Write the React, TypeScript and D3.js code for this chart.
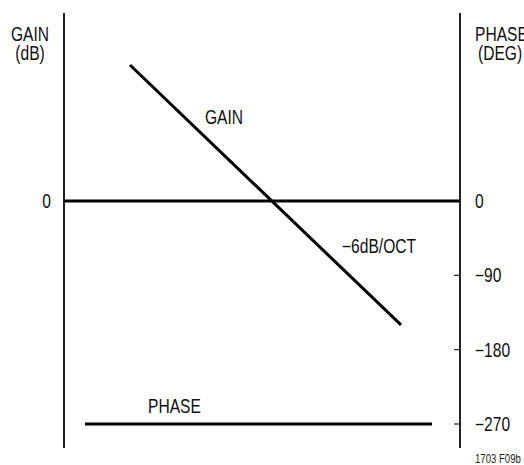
import React from 'react';
import * as d3 from 'd3';

// frequency in octaves relative to the 0 dB crossing
const gainOctaves = [-2.84, 2.58];
const gainDb = [17.0, -15.5];
const phaseOctaves = [-3.74, 3.2];
const phaseDeg = [-270, -270];
const phaseTicks = [0, -90, -180, -270];
const phaseTickLabels = ['0', '\u221290', '\u2212180', '\u2212270'];

const W = 524;
const H = 465;
const FONT = "'Liberation Sans', Arial, sans-serif";
const NARROW = 0.8; // Helvetica condensed ~ Arial squeezed horizontally

// condensed text: squeeze the glyphs around the anchor point
const T = ({ x, y, anchor = 'start', size = 19.5, fill = '#111', children }: any) => (
  <text
    transform={`translate(${x},${y}) scale(${NARROW},1)`}
    textAnchor={anchor}
    fontFamily={FONT}
    fontSize={size}
    fill={fill}
  >
    {children}
  </text>
);

const App = () => {
  const left = 64;
  const right = 460;
  const top = 13;
  const bottom = 448;

  const x = d3.scaleLinear().domain([-4.16, 3.76]).range([left, right]);
  const yGain = d3.scaleLinear().domain([23.5, -30.9]).range([top, bottom]);
  const yPhase = d3.scaleLinear().domain([0, -270]).range([201, 424]);

  const gainLine = d3.line<number>()
    .x((d) => x(d))
    .y((d, i) => yGain(gainDb[i]));
  const phaseLine = d3.line<number>()
    .x((d) => x(d))
    .y((d, i) => yPhase(phaseDeg[i]));

  return (
    <svg width={W} height={H} style={{ position: 'absolute', left: 0, top: 0, background: '#fff' }}>
      {/* axes */}
      <line x1={left} x2={left} y1={top} y2={bottom} stroke="#222" strokeWidth={2} />
      <line x1={right} x2={right} y1={top} y2={bottom} stroke="#222" strokeWidth={2} />
      {/* 0 dB line */}
      <line x1={left} x2={right} y1={yGain(0)} y2={yGain(0)} stroke="#000" strokeWidth={3} />

      {/* phase ticks */}
      {phaseTicks.map((t, i) => (
        <g key={t}>
          {t !== 0 && (
            <line x1={right - 6} x2={right} y1={yPhase(t)} y2={yPhase(t)} stroke="#222" strokeWidth={1.2} />
          )}
          <T x={right + 15} y={yPhase(t) + 7}>{phaseTickLabels[i]}</T>
        </g>
      ))}
      <T x={left - 13} y={yGain(0) + 7} anchor="end">0</T>

      {/* gain + phase curves */}
      <path d={gainLine(gainOctaves) || ''} fill="none" stroke="#000" strokeWidth={3} />
      <path d={phaseLine(phaseOctaves) || ''} fill="none" stroke="#000" strokeWidth={3} />

      {/* labels */}
      <T x={30} y={41} anchor="middle">GAIN</T>
      <T x={30} y={60} anchor="middle">(dB)</T>
      <T x={475} y={41}>PHASE</T>
      <T x={478} y={60}>(DEG)</T>
      <T x={205} y={124}>GAIN</T>
      <T x={342} y={253}>{'\u22126dB/OCT'}</T>
      <T x={148} y={413}>PHASE</T>
      <T x={475} y={463} size={12} fill="#222">1703 F09b</T>
    </svg>
  );
};

export default App;
